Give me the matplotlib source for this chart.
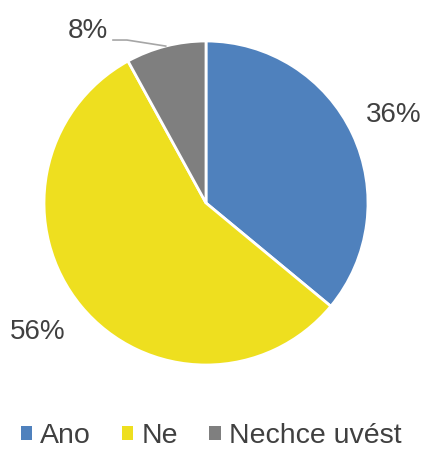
import numpy as np
import matplotlib
matplotlib.use("Agg")
import matplotlib.pyplot as plt
from matplotlib.patches import Patch

categories = ["Ano", "Ne", "Nechce uvést"]
values = [36, 56, 8]
labels = ["36%", "56%", "8%"]
colors = ["#4F81BD", "#EEDF1F", "#7F7F7F"]
label_dist = [1.28, 1.31, 1.29]
label_angle_adj = [0.0, -2.0, 20.0]

plt.rcParams['font.family'] = ['Liberation Sans', 'DejaVu Sans']
text_color = "#404040"

fig = plt.figure(figsize=(4.26, 4.49), dpi=100)
cx, cy, r = 206, 203, 162
W, H = 426, 449
ax = fig.add_axes([(cx - r) / W, (H - cy - r) / H, 2 * r / W, 2 * r / H])
wedges, _ = ax.pie(values, colors=colors, startangle=90, counterclock=False,
                   wedgeprops=dict(edgecolor="white", linewidth=2))
ax.set_xlim(-1, 1)
ax.set_ylim(-1, 1)
ax.set_aspect("auto")
ax.axis("off")

for w, lab, d, adj in zip(wedges, labels, label_dist, label_angle_adj):
    mid = np.deg2rad((w.theta1 + w.theta2) / 2 + adj)
    ax.text(d * np.cos(mid), d * np.sin(mid), lab, ha="center", va="center",
            fontsize=20, color=text_color, clip_on=False)

# leader line for small slice
w = wedges[2]
mid = np.deg2rad((w.theta1 + w.theta2) / 2)
x0, y0 = np.cos(mid), np.sin(mid)
ax.plot([x0, -0.488, -0.574], [y0, 1.006, 1.006], color="#A6A6A6", lw=1.2,
        clip_on=False)

handles = [Patch(facecolor=c, edgecolor="none") for c in colors]
fig.legend(handles, categories, loc="center", bbox_to_anchor=(0.495, (H - 436) / H),
           ncol=3, frameon=False, fontsize=20.5, handlelength=0.4, handleheight=0.4,
           handletextpad=0.28, columnspacing=1.1, labelcolor=text_color,
           borderpad=0, borderaxespad=0)

fig.savefig("out.png", dpi=100)
